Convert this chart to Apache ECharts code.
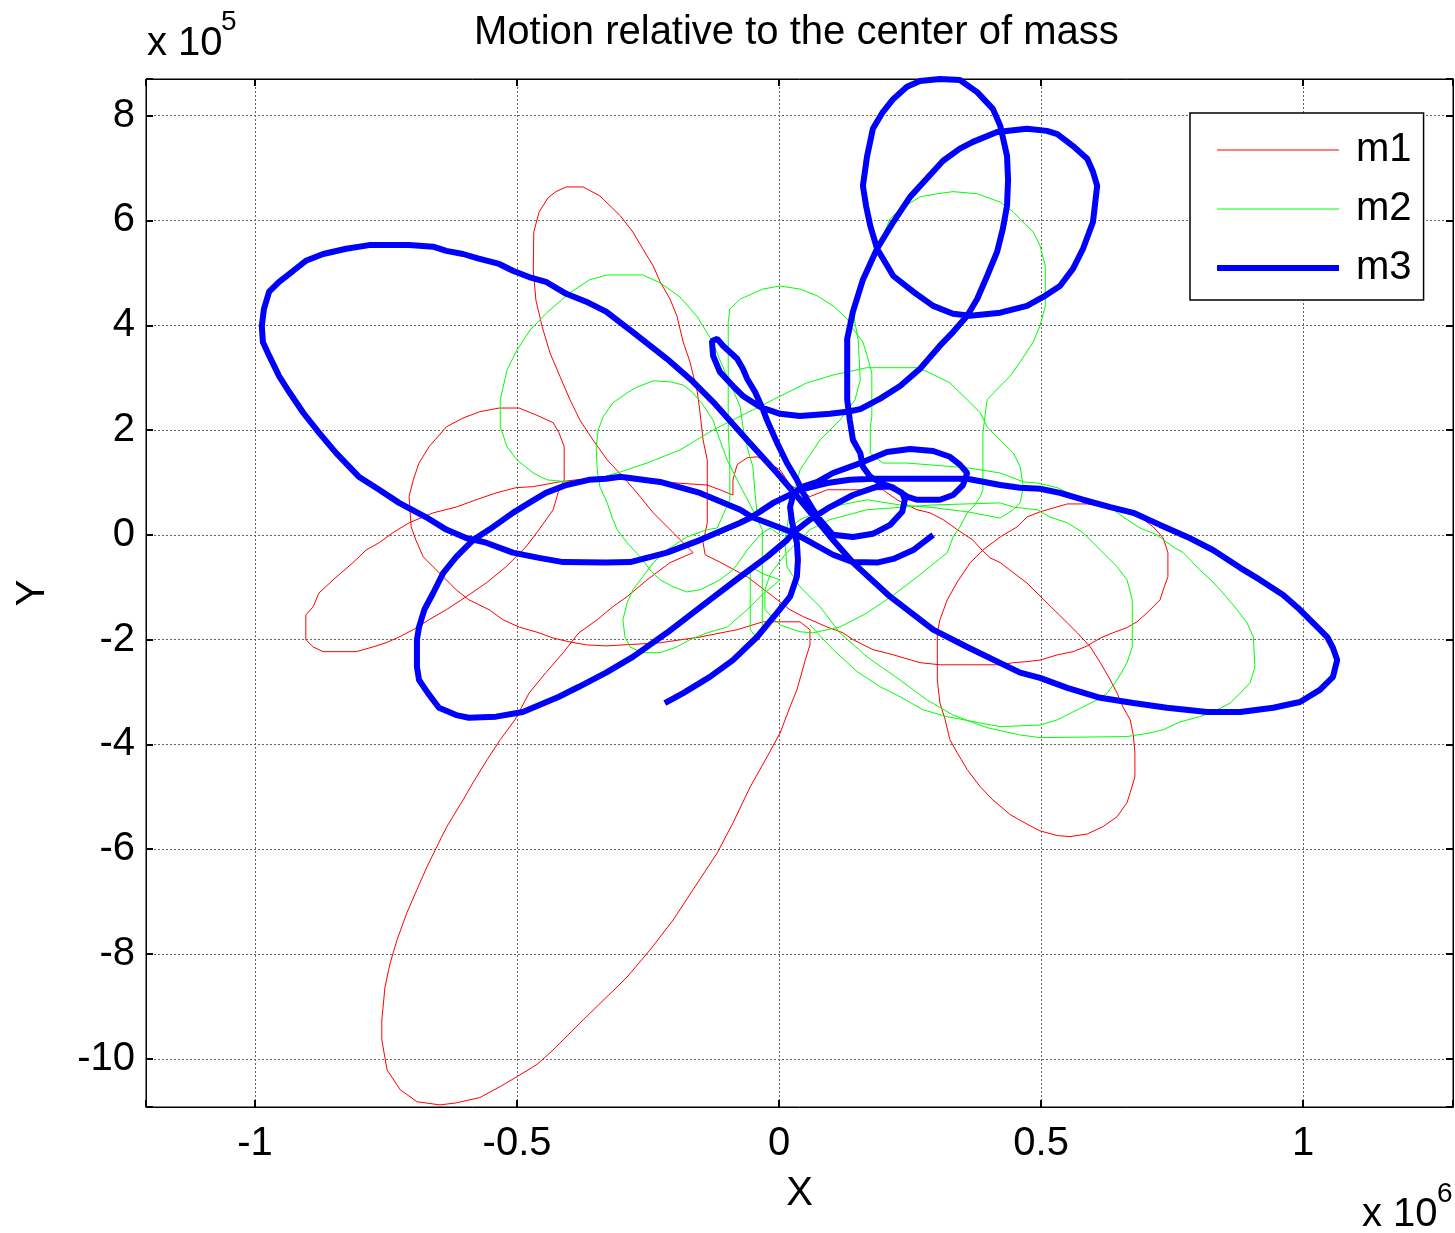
<!DOCTYPE html>
<html>
<head>
<meta charset="utf-8">
<title>Motion relative to the center of mass</title>
<script src="https://cdn.jsdelivr.net/npm/echarts@6/dist/echarts.min.js"></script>
<style>
  html, body { margin: 0; padding: 0; background: #fff; }
  #chart { width: 1455px; height: 1233px; }
</style>
</head>
<body>
<div id="chart"></div>
<script>
// x values are in units of 1e6, y values in units of 1e5 (as on the axes)
const xTicks = [-1, -0.5, 0, 0.5, 1];
const yTicks = [-10, -8, -6, -4, -2, 0, 2, 4, 6, 8];

// m1 (red)
const m1X = [0.021,0.002,-0.023,-0.042,-0.061,-0.080,-0.088,-0.088,-0.113,-0.137,
  -0.227,-0.330,-0.387,-0.420,-0.469,-0.502,-0.540,-0.578,-0.616,-0.660,
  -0.706,-0.737,-0.763,-0.788,-0.813,-0.851,-0.878,-0.889,-0.903,-0.903,
  -0.889,-0.870,-0.807,-0.775,-0.750,-0.725,-0.698,-0.668,-0.635,-0.597,
  -0.559,-0.521,-0.483,-0.458,-0.431,-0.420,-0.410,-0.410,-0.420,-0.431,
  -0.464,-0.496,-0.534,-0.571,-0.603,-0.635,-0.668,-0.687,-0.698,-0.706,
  -0.702,-0.693,-0.679,-0.660,-0.641,-0.616,-0.592,-0.553,-0.527,-0.496,
  -0.458,-0.431,-0.401,-0.368,-0.330,-0.227,-0.151,-0.080,-0.031,0.040,
  0.059,0.059,0.050,0.034,0.021,0.002,-0.023,-0.055,-0.088,-0.118,
  -0.164,-0.202,-0.246,-0.290,-0.374,-0.431,-0.462,-0.500,-0.532,-0.571,
  -0.615,-0.647,-0.691,-0.723,-0.748,-0.758,-0.758,-0.752,-0.742,-0.729,
  -0.710,-0.691,-0.672,-0.653,-0.634,-0.603,-0.584,-0.557,-0.532,-0.504,
  -0.477,-0.445,-0.412,-0.382,-0.347,-0.317,-0.290,-0.252,-0.208,-0.164,
  -0.202,-0.240,-0.271,-0.298,-0.328,-0.355,-0.380,-0.399,-0.418,-0.437,
  -0.452,-0.464,-0.469,-0.468,-0.458,-0.441,-0.426,-0.406,-0.374,-0.342,
  -0.303,-0.279,-0.260,-0.240,-0.227,-0.208,-0.195,-0.183,-0.170,-0.156,
  -0.151,-0.145,-0.137,-0.137,-0.137,-0.145,-0.141,-0.113,-0.061,-0.036,
  -0.011,0.021,0.046,0.092,0.122,0.141,0.179,0.218,0.269,0.307,
  0.422,0.447,0.473,0.498,0.531,0.561,0.588,0.613,0.637,0.664,
  0.683,0.702,0.727,0.733,0.742,0.742,0.733,0.714,0.689,0.664,
  0.632,0.588,0.550,0.498,0.473,0.454,0.422,0.389,0.365,0.340,
  0.321,0.307,0.302,0.302,0.307,0.317,0.326,0.340,0.359,0.384,
  0.408,0.441,0.473,0.498,0.531,0.555,0.588,0.618,0.645,0.664,
  0.670,0.679,0.679,0.676,0.670,0.656,0.645,0.632,0.613,0.594,
  0.569,0.550,0.473,0.422,0.403,0.387,0.370,0.340,0.313,0.288,
  0.263,0.225,0.198,0.135,0.092,0.059,0.021];
const m1Y = [0.95,1.24,1.39,1.49,1.47,1.34,1.05,0.76,0.86,0.95,
  1.01,1.09,1.05,1.01,0.92,0.90,0.80,0.67,0.53,0.42,
  0.23,0.04,-0.15,-0.29,-0.53,-0.86,-1.11,-1.37,-1.53,-2.00,
  -2.14,-2.23,-2.23,-2.14,-2.06,-1.95,-1.81,-1.62,-1.43,-1.18,
  -0.92,-0.61,-0.23,0.10,0.48,0.86,1.05,1.68,1.95,2.14,
  2.29,2.42,2.42,2.35,2.23,2.06,1.68,1.37,1.05,0.73,
  0.15,-0.10,-0.42,-0.61,-0.80,-1.05,-1.24,-1.43,-1.62,-1.76,
  -1.87,-1.97,-2.04,-2.10,-2.12,-2.06,-1.95,-1.81,-1.66,-1.66,
  -1.81,-2.10,-2.39,-2.96,-3.28,-3.78,-4.24,-4.81,-5.50,-6.07,
  -6.77,-7.35,-7.92,-8.44,-9.26,-9.83,-10.11,-10.34,-10.53,-10.74,
  -10.84,-10.88,-10.82,-10.59,-10.21,-9.64,-9.26,-8.63,-8.17,-7.73,
  -7.21,-6.77,-6.34,-5.95,-5.57,-5.06,-4.73,-4.29,-3.91,-3.53,
  -3.02,-2.63,-2.25,-1.87,-1.62,-1.37,-1.18,-0.86,-0.53,-0.34,
  0.04,0.42,0.80,1.11,1.43,1.81,2.19,2.58,3.02,3.47,
  3.97,4.48,5.06,5.78,6.16,6.43,6.55,6.64,6.64,6.47,
  6.09,5.78,5.46,5.13,4.83,4.50,4.18,3.68,3.30,2.73,
  2.35,1.81,1.43,0.80,0.23,-0.15,-0.38,-0.52,-0.80,-0.99,
  -1.18,-1.43,-1.56,-1.76,-1.87,-2.00,-2.19,-2.29,-2.44,-2.48,
  -2.48,-2.44,-2.42,-2.39,-2.29,-2.23,-2.12,-1.97,-1.87,-1.77,
  -1.66,-1.49,-1.24,-1.05,-0.80,-0.34,-0.06,0.15,0.34,0.48,
  0.53,0.59,0.59,0.44,0.34,0.15,-0.04,-0.29,-0.53,-0.90,
  -1.24,-1.62,-1.87,-2.77,-3.21,-3.53,-3.91,-4.16,-4.48,-4.81,
  -5.06,-5.34,-5.52,-5.65,-5.74,-5.76,-5.71,-5.57,-5.38,-5.11,
  -4.92,-4.62,-4.16,-3.82,-3.53,-3.28,-3.02,-2.77,-2.44,-2.14,
  -1.87,-1.68,-0.92,-0.53,-0.44,-0.29,-0.10,0.10,0.29,0.42,
  0.48,0.67,0.86,0.86,0.86,0.73,0.95];

// m2 (green)
const m2X = [-0.042,-0.046,-0.050,-0.061,-0.069,-0.074,-0.088,-0.099,-0.113,-0.126,
  -0.137,-0.156,-0.189,-0.227,-0.260,-0.328,-0.361,-0.399,-0.443,-0.475,
  -0.500,-0.519,-0.532,-0.532,-0.519,-0.500,-0.469,-0.443,-0.401,-0.342,
  -0.303,-0.252,-0.189,-0.126,-0.061,-0.011,0.053,0.103,0.168,0.263,
  0.288,0.326,0.359,0.384,0.397,0.422,0.447,0.460,0.466,0.460,
  0.447,0.422,0.359,0.294,0.231,0.168,0.097,0.040,0.002,
  -0.017,-0.036,-0.061,-0.074,-0.088,-0.113,-0.151,-0.176,-0.202,-0.227,
  -0.246,-0.265,-0.290,-0.309,-0.317,-0.328,-0.342,-0.347,-0.349,-0.345,
  -0.336,-0.317,-0.290,-0.271,-0.240,-0.208,-0.183,-0.164,-0.145,-0.126,
  -0.113,-0.099,-0.080,-0.055,-0.032,-0.032,-0.032,-0.032,-0.044,-0.055,
  -0.055,-0.055,-0.027,
  0.002,-0.036,-0.061,-0.099,-0.137,-0.170,-0.195,-0.227,-0.260,-0.284,
  -0.294,-0.298,-0.290,-0.279,-0.260,-0.240,-0.214,-0.176,-0.137,-0.118,
  -0.094,-0.094,-0.097,-0.097,-0.097,-0.097,-0.097,-0.094,-0.074,-0.031,
  0.002,0.040,0.073,0.103,0.130,0.141,0.160,0.168,0.177,0.177,
  0.174,0.174,0.198,0.244,0.359,0.422,0.441,0.466,0.492,0.531,
  0.561,0.594,0.632,0.664,0.689,0.721,0.752,0.771,0.803,0.828,
  0.847,0.874,0.893,0.905,0.908,0.899,0.880,0.861,0.828,0.803,
  0.765,0.733,0.708,0.664,0.498,0.460,0.397,0.332,0.282,0.231,
  0.168,0.116,0.078,0.040,0.015,0.011,
  0.021,0.040,0.078,0.116,0.145,0.155,0.151,0.141,0.149,0.160,
  0.174,0.187,0.198,0.212,0.231,0.269,0.302,0.332,0.378,0.422,
  0.447,0.485,0.498,0.508,0.508,0.498,0.485,0.460,0.441,0.422,
  0.397,0.389,0.389,0.384,0.370,0.359,0.345,0.332,0.321,0.269,
  0.218,0.168,0.116,0.065,0.040,0.002,-0.027,-0.027,-0.017,0.011,
  0.059,0.097,
  0.168,0.294,0.422,0.447,0.492,0.517,0.550,0.580,0.613,0.645,
  0.664,0.674,0.674,0.664,0.645,0.626,0.607,0.569,0.531,0.498,
  0.422,0.384,0.321,0.275,0.231,0.193,0.149,0.103,0.059];
const m2Y = [0.42,0.80,1.30,1.68,2.06,2.44,2.77,3.02,3.34,3.66,
  3.85,4.16,4.54,4.81,4.96,4.96,4.87,4.62,4.24,3.91,
  3.53,3.15,2.58,2.06,1.68,1.43,1.18,1.05,1.01,1.09,
  1.20,1.37,1.62,2.00,2.33,2.58,2.90,3.05,3.19,3.19,
  3.09,2.90,2.58,2.33,2.06,1.81,1.56,1.30,0.92,0.61,
  0.48,0.32,0.44,0.52,0.57,0.67,0.53,0.29,0.00,
  0.13,0.00,-0.29,-0.48,-0.67,-0.86,-1.05,-1.09,-0.99,-0.86,
  -0.67,-0.42,-0.15,0.10,0.29,0.61,0.92,1.24,1.68,2.00,
  2.25,2.52,2.71,2.82,2.94,2.92,2.86,2.71,2.48,2.19,
  1.81,1.43,1.05,0.57,0.10,-0.53,-1.24,-1.76,-1.95,-1.81,
  -1.24,-0.61,-0.76,
  -0.86,-1.18,-1.43,-1.76,-1.87,-2.00,-2.14,-2.25,-2.25,-2.14,
  -1.95,-1.62,-1.30,-1.05,-0.80,-0.53,-0.29,-0.04,0.10,0.13,
  0.67,1.43,2.00,2.35,2.96,3.59,4.05,4.31,4.50,4.69,
  4.75,4.69,4.56,4.37,4.12,3.93,3.68,3.42,3.09,2.25,
  2.06,1.56,1.37,1.37,1.28,1.18,1.11,1.01,0.99,0.90,
  0.76,0.63,0.52,0.29,0.13,0.00,-0.23,-0.34,-0.67,-0.90,
  -1.11,-1.43,-1.68,-1.95,-2.52,-2.82,-3.02,-3.21,-3.38,-3.47,
  -3.57,-3.72,-3.78,-3.85,-3.87,-3.82,-3.68,-3.44,-3.15,-2.77,
  -2.33,-1.87,-1.37,-0.99,-0.61,-0.10,
  0.48,1.24,1.81,2.19,2.58,2.96,3.72,4.26,4.56,4.89,
  5.27,5.52,5.71,6.03,6.22,6.45,6.51,6.55,6.51,6.35,
  6.16,5.78,5.52,5.13,4.37,3.99,3.68,3.30,3.03,2.84,
  2.58,1.95,0.86,0.73,0.53,0.42,0.15,-0.04,-0.34,-0.76,
  -1.15,-1.49,-1.76,-1.87,-1.85,-1.72,-1.43,-1.05,-0.76,-0.38,
  0.10,0.29,
  0.48,0.57,0.61,0.53,0.48,0.34,0.23,0.04,-0.29,-0.61,
  -0.86,-1.24,-2.14,-2.44,-2.77,-3.02,-3.15,-3.34,-3.53,-3.63,
  -3.66,-3.59,-3.47,-3.34,-3.09,-2.90,-2.61,-2.19,-1.72];

// m3 (blue)
const m3X = [-0.218,-0.183,-0.132,-0.088,-0.042,-0.004,0.021,0.034,0.036,0.034,0.025,0.021,0.027,0.040,
  0.073,0.103,0.155,0.206,0.250,0.294,0.326,0.345,0.359,0.351,0.332,0.307,0.263,0.244,0.218,0.198,
  0.174,0.160,0.155,0.141,0.135,0.130,0.130,0.130,0.141,0.160,0.187,
  0.218,0.250,0.313,0.345,0.370,0.416,0.473,0.511,0.531,0.561,0.588,0.599,0.607,0.599,0.580,0.561,
  0.536,0.504,0.473,0.422,0.365,0.332,0.294,0.256,0.218,0.187,
  0.174,0.166,0.160,0.168,0.179,0.198,0.218,0.244,0.269,0.307,
  0.345,0.378,0.408,0.422,0.435,0.437,0.435,0.427,0.416,0.397,
  0.378,0.359,0.332,0.307,0.269,0.231,0.193,0.155,0.130,0.097,
  0.040,0.002,-0.036,-0.069,-0.088,-0.113,-0.126,-0.128,-0.118,-0.107,
  -0.080,-0.069,-0.061,-0.046,-0.031,-0.023,-0.004,0.015,0.034,0.046,
  0.065,0.078,0.103,0.141,0.179,0.212,0.235,0.240,0.235,0.212,
  0.187,0.141,0.097,0.059,0.027,0.015,-0.023,-0.074,-0.132,-0.214,
  -0.279,-0.330,-0.382,-0.420,-0.489,-0.540,-0.592,-0.616,-0.649,-0.670,
  -0.687,-0.691,-0.691,-0.687,-0.677,-0.660,-0.641,-0.616,-0.584,-0.553,
  -0.508,-0.477,-0.445,-0.406,-0.363,-0.330,-0.303,-0.227,-0.151,-0.074,-0.052,
  -0.011,0.040,0.092,0.135,0.179,0.359,0.422,0.460,0.498,0.536,
  0.580,0.632,0.676,0.727,0.779,0.828,0.880,0.918,0.962,0.994,
  1.032,1.046,1.057,1.065,1.057,1.032,0.994,0.943,0.880,0.817,
  0.740,0.676,0.613,0.550,0.498,0.460,0.359,0.294,0.212,0.141,
  0.103,0.040,-0.004,-0.061,-0.126,-0.164,-0.214,-0.279,-0.330,-0.368,
  -0.406,-0.445,-0.477,-0.508,-0.534,-0.573,-0.603,-0.635,-0.660,-0.706,
  -0.744,-0.782,-0.826,-0.870,-0.903,-0.927,-0.954,-0.973,-0.983,-0.987,
  -0.985,-0.973,-0.954,-0.935,-0.908,-0.878,-0.845,-0.802,-0.763,-0.725,
  -0.674,-0.635,-0.597,-0.559,-0.508,-0.458,-0.412,-0.330,-0.284,-0.214,
  -0.151,-0.074,-0.052,
  -0.023,0.027,0.053,0.103,0.141,0.187,0.218,0.256,0.294];
const m3Y = [-3.21,-3.02,-2.71,-2.39,-1.95,-1.49,-1.18,-0.80,-0.48,-0.15,0.23,0.53,0.76,0.90,
  1.01,1.18,1.37,1.58,1.64,1.60,1.49,1.34,1.18,0.95,0.76,0.67,0.67,0.73,0.90,0.97,
  1.11,1.30,1.56,1.81,2.19,2.58,3.15,3.74,4.26,4.87,5.46,
  5.97,6.45,7.14,7.37,7.50,7.69,7.75,7.71,7.65,7.42,7.18,6.93,6.66,5.97,5.46,5.08,
  4.75,4.54,4.37,4.24,4.18,4.22,4.37,4.64,4.94,5.46,
  5.90,6.28,6.66,7.23,7.75,8.07,8.32,8.55,8.66,8.70,
  8.68,8.45,8.13,7.81,7.23,6.77,6.28,5.84,5.40,4.94,
  4.50,4.18,3.87,3.61,3.17,2.84,2.60,2.40,2.35,2.31,
  2.27,2.31,2.44,2.65,2.84,3.11,3.42,3.70,3.74,3.61,
  3.36,3.17,2.98,2.73,2.40,2.19,1.76,1.37,1.05,0.80,
  0.48,0.29,0.00,-0.04,0.02,0.19,0.44,0.67,0.80,0.92,
  0.92,0.76,0.53,0.29,0.04,-0.10,-0.42,-0.80,-1.24,-1.87,
  -2.33,-2.63,-2.90,-3.09,-3.38,-3.47,-3.49,-3.44,-3.30,-3.02,
  -2.77,-2.52,-2.00,-1.76,-1.43,-1.11,-0.73,-0.42,-0.10,0.10,
  0.42,0.61,0.80,0.95,1.05,1.07,1.11,1.01,0.80,0.48,0.34,
  0.61,0.86,0.99,1.05,1.07,1.07,0.95,0.90,0.88,0.80,
  0.67,0.53,0.42,0.19,-0.04,-0.29,-0.63,-0.86,-1.15,-1.43,
  -1.81,-1.95,-2.16,-2.39,-2.71,-2.96,-3.19,-3.30,-3.38,-3.38,
  -3.30,-3.21,-3.11,-2.92,-2.73,-2.63,-2.14,-1.81,-1.18,-0.53,
  -0.10,0.67,1.18,1.81,2.54,2.92,3.36,3.87,4.26,4.45,
  4.60,4.83,4.92,5.04,5.17,5.27,5.36,5.42,5.50,5.53,
  5.53,5.53,5.46,5.36,5.23,5.04,4.83,4.64,4.31,3.99,
  3.68,3.42,3.03,2.73,2.33,1.95,1.56,1.11,0.86,0.61,
  0.34,0.10,-0.06,-0.15,-0.34,-0.44,-0.52,-0.53,-0.52,-0.34,
  -0.10,0.23,0.34,
  0.23,0.04,-0.10,-0.38,-0.52,-0.53,-0.46,-0.29,0.00];

const FONT = '"Liberation Sans", Arial, sans-serif';
const pairs = (xs, ys) => xs.map((x, i) => [x, ys[i]]);
const onTick = (ticks, v) => ticks.some(t => Math.abs(t - v) < 1e-6);

const chart = echarts.init(document.getElementById('chart'));

const tickStyle = { inside: true, length: 7, lineStyle: { color: '#000', width: 2 } };
const gridLine = { show: true, lineStyle: { color: '#666', width: 1, type: [2, 2] } };
const boxLine = { show: true, onZero: false, lineStyle: { color: '#000', width: 1 } };

const option = {
  animation: false,
  backgroundColor: '#fff',
  title: {
    text: 'Motion relative to the center of mass',
    left: 469,
    top: 8,
    textStyle: { fontSize: 40, fontWeight: 'normal', fontFamily: FONT, color: '#000' }
  },
  legend: {
    data: [
      { name: 'm1', lineStyle: { width: 1 } },
      { name: 'm2', lineStyle: { width: 1 } },
      { name: 'm3', lineStyle: { width: 6 } }
    ],
    orient: 'vertical',
    left: 1190,
    top: 113,
    padding: [17, 12, 12, 24],
    itemWidth: 122,
    itemHeight: 40,
    itemGap: 19,
    itemStyle: { opacity: 0 },
    backgroundColor: '#fff',
    borderColor: '#000',
    borderWidth: 1.5,
    textStyle: { fontSize: 40, lineHeight: 40, fontFamily: FONT, color: '#000', padding: [0, 0, 0, 12] }
  },
  grid: {
    left: 146, top: 79, right: 2, bottom: 126,
    show: true, borderColor: '#000', borderWidth: 1,
    outerBoundsMode: 'none'
  },
  graphic: [
    { type: 'text', x: 147, y: 44, style: { text: 'x 10', font: '40px ' + FONT, fill: '#000', verticalAlign: 'middle' } },
    { type: 'text', x: 221, y: 22, style: { text: '5', font: '28px ' + FONT, fill: '#000', verticalAlign: 'middle' } },
    { type: 'text', x: 1362, y: 1215, style: { text: 'x 10', font: '40px ' + FONT, fill: '#000', verticalAlign: 'middle' } },
    { type: 'text', x: 1437, y: 1194, style: { text: '6', font: '28px ' + FONT, fill: '#000', verticalAlign: 'middle' } }
  ],
  xAxis: [
    {
      type: 'value', position: 'bottom',
      min: -1.208, max: 1.286, splitNumber: 5,
      name: 'X', nameLocation: 'middle', nameGap: 67,
      nameTextStyle: { fontSize: 40, fontFamily: FONT, color: '#000' },
      axisLine: boxLine,
      axisTick: tickStyle,
      axisLabel: {
        fontSize: 40, fontFamily: FONT, color: '#000', margin: 17,
        formatter: v => onTick(xTicks, v) ? String(v) : ''
      },
      splitLine: gridLine
    },
    {
      type: 'value', position: 'top',
      min: -1.208, max: 1.286, splitNumber: 5,
      axisLine: boxLine,
      axisTick: tickStyle,
      axisLabel: { show: false },
      splitLine: { show: false }
    }
  ],
  yAxis: [
    {
      type: 'value', position: 'left',
      min: -10.92, max: 8.70, splitNumber: 10,
      name: 'Y', nameLocation: 'middle', nameGap: 93, nameRotate: 90,
      nameTextStyle: { fontSize: 40, fontFamily: FONT, color: '#000' },
      axisLine: boxLine,
      axisTick: tickStyle,
      axisLabel: {
        fontSize: 40, fontFamily: FONT, color: '#000', margin: 11,
        formatter: v => onTick(yTicks, v) ? String(v) : ''
      },
      splitLine: gridLine
    },
    {
      type: 'value', position: 'right',
      min: -10.92, max: 8.70, splitNumber: 10,
      axisLine: boxLine,
      axisTick: tickStyle,
      axisLabel: { show: false },
      splitLine: { show: false }
    }
  ],
  series: [
    {
      name: 'm1', type: 'line', data: pairs(m1X, m1Y),
      symbol: 'none', smooth: false, z: 2,
      itemStyle: { color: '#ff0000' },
      lineStyle: { color: '#ff0000', width: 1 }
    },
    {
      name: 'm2', type: 'line', data: pairs(m2X, m2Y),
      symbol: 'none', smooth: false, z: 3,
      itemStyle: { color: '#00ff00' },
      lineStyle: { color: '#00ff00', width: 1 }
    },
    {
      name: 'm3', type: 'line', data: pairs(m3X, m3Y),
      symbol: 'none', smooth: false, z: 4,
      itemStyle: { color: '#0000ff' },
      lineStyle: { color: '#0000ff', width: 6 }
    }
  ]
};

chart.setOption(option);
</script>
</body>
</html>
